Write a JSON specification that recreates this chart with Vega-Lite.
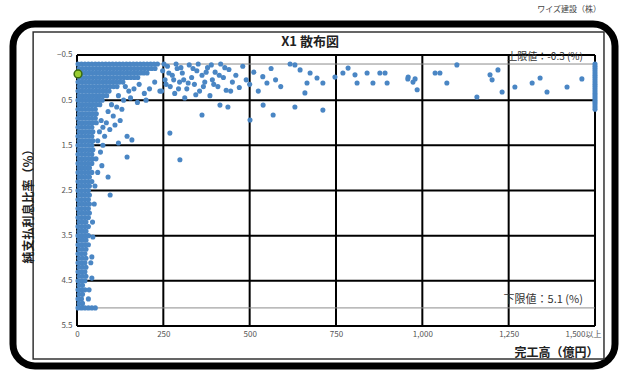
{
"$schema":"https://vega.github.io/schema/vega-lite/v6.json",
"autosize":"none",
"width":602,"height":342,
"padding":{"left":13,"top":24,"right":11,"bottom":4},
"background":"white",
"config":{"font":"Noto Sans CJK JP","view":{"stroke":"black","strokeWidth":7,"cornerRadius":22,"fill":"white"}},
"title":{"text":"ワイズ建設（株）","anchor":"end","fontSize":8,"font":"Noto Sans CJK JP","color":"#444","fontWeight":"normal","offset":2,"baseline":"bottom","dx":-14},
"datasets":{
"pts":[
{"x":3,"y":-0.3},{"x":13,"y":-0.3},{"x":23,"y":-0.3},{"x":33,"y":-0.3},{"x":43,"y":-0.3},{"x":53,"y":-0.3},{"x":63,"y":-0.3},{"x":73,"y":-0.3},{"x":83,"y":-0.3},{"x":93,"y":-0.3},{"x":103,"y":-0.3},{"x":113,"y":-0.3},{"x":123,"y":-0.3},{"x":133,"y":-0.3},{"x":143,"y":-0.3},{"x":153,"y":-0.3},{"x":163,"y":-0.3},{"x":173,"y":-0.3},{"x":183,"y":-0.3},{"x":193,"y":-0.3},{"x":203,"y":-0.3},{"x":213,"y":-0.3},{"x":223,"y":-0.3},{"x":233,"y":-0.3},
{"x":6,"y":-0.2},{"x":16,"y":-0.2},{"x":26,"y":-0.2},{"x":36,"y":-0.2},{"x":46,"y":-0.2},{"x":56,"y":-0.2},{"x":66,"y":-0.2},{"x":76,"y":-0.2},{"x":86,"y":-0.2},{"x":96,"y":-0.2},{"x":106,"y":-0.2},{"x":116,"y":-0.2},{"x":126,"y":-0.2},{"x":136,"y":-0.2},{"x":146,"y":-0.2},{"x":156,"y":-0.2},{"x":166,"y":-0.2},{"x":176,"y":-0.2},{"x":186,"y":-0.2},{"x":196,"y":-0.2},{"x":206,"y":-0.2},{"x":216,"y":-0.2},{"x":226,"y":-0.2},
{"x":3,"y":-0.1},{"x":13,"y":-0.1},{"x":23,"y":-0.1},{"x":33,"y":-0.1},{"x":43,"y":-0.1},{"x":53,"y":-0.1},{"x":63,"y":-0.1},{"x":73,"y":-0.1},{"x":83,"y":-0.1},{"x":93,"y":-0.1},{"x":103,"y":-0.1},{"x":113,"y":-0.1},{"x":123,"y":-0.1},{"x":133,"y":-0.1},{"x":143,"y":-0.1},{"x":153,"y":-0.1},{"x":163,"y":-0.1},{"x":173,"y":-0.1},{"x":183,"y":-0.1},{"x":193,"y":-0.1},{"x":203,"y":-0.1},
{"x":6,"y":0},{"x":16,"y":0},{"x":26,"y":0},{"x":36,"y":0},{"x":46,"y":0},{"x":56,"y":0},{"x":66,"y":0},{"x":76,"y":0},{"x":86,"y":0},{"x":96,"y":0},{"x":106,"y":0},{"x":116,"y":0},{"x":126,"y":0},{"x":136,"y":0},{"x":146,"y":0},{"x":156,"y":0},{"x":166,"y":0},{"x":176,"y":0},
{"x":3,"y":0.1},{"x":13,"y":0.1},{"x":23,"y":0.1},{"x":33,"y":0.1},{"x":43,"y":0.1},{"x":53,"y":0.1},{"x":63,"y":0.1},{"x":73,"y":0.1},{"x":83,"y":0.1},{"x":93,"y":0.1},{"x":103,"y":0.1},{"x":113,"y":0.1},{"x":123,"y":0.1},{"x":133,"y":0.1},
{"x":6,"y":0.2},{"x":16,"y":0.2},{"x":26,"y":0.2},{"x":36,"y":0.2},{"x":46,"y":0.2},{"x":56,"y":0.2},{"x":66,"y":0.2},{"x":76,"y":0.2},{"x":86,"y":0.2},{"x":96,"y":0.2},{"x":106,"y":0.2},{"x":116,"y":0.2},
{"x":3,"y":0.3},{"x":13,"y":0.3},{"x":23,"y":0.3},{"x":33,"y":0.3},{"x":43,"y":0.3},{"x":53,"y":0.3},{"x":63,"y":0.3},{"x":73,"y":0.3},{"x":83,"y":0.3},{"x":93,"y":0.3},
{"x":6,"y":0.4},{"x":16,"y":0.4},{"x":26,"y":0.4},{"x":36,"y":0.4},{"x":46,"y":0.4},{"x":56,"y":0.4},{"x":66,"y":0.4},{"x":76,"y":0.4},{"x":86,"y":0.4},
{"x":3,"y":0.5},{"x":13,"y":0.5},{"x":23,"y":0.5},{"x":33,"y":0.5},{"x":43,"y":0.5},{"x":53,"y":0.5},{"x":63,"y":0.5},{"x":73,"y":0.5},
{"x":6,"y":0.6},{"x":16,"y":0.6},{"x":26,"y":0.6},{"x":36,"y":0.6},{"x":46,"y":0.6},{"x":56,"y":0.6},{"x":66,"y":0.6},
{"x":3,"y":0.7},{"x":13,"y":0.7},{"x":23,"y":0.7},{"x":33,"y":0.7},{"x":43,"y":0.7},{"x":53,"y":0.7},
{"x":6,"y":0.8},{"x":16,"y":0.8},{"x":26,"y":0.8},{"x":36,"y":0.8},{"x":46,"y":0.8},{"x":56,"y":0.8},
{"x":3,"y":0.9},{"x":13,"y":0.9},{"x":23,"y":0.9},{"x":33,"y":0.9},{"x":43,"y":0.9},{"x":53,"y":0.9},
{"x":6,"y":1.0},{"x":16,"y":1.0},{"x":26,"y":1.0},{"x":36,"y":1.0},{"x":46,"y":1.0},{"x":56,"y":1.0},
{"x":3,"y":1.1},{"x":13,"y":1.1},{"x":23,"y":1.1},{"x":33,"y":1.1},{"x":43,"y":1.1},
{"x":6,"y":1.2},{"x":16,"y":1.2},{"x":26,"y":1.2},{"x":36,"y":1.2},{"x":46,"y":1.2},
{"x":3,"y":1.3},{"x":13,"y":1.3},{"x":23,"y":1.3},{"x":33,"y":1.3},{"x":43,"y":1.3},
{"x":6,"y":1.4},{"x":16,"y":1.4},{"x":26,"y":1.4},{"x":36,"y":1.4},{"x":46,"y":1.4},
{"x":3,"y":1.5},{"x":13,"y":1.5},{"x":23,"y":1.5},{"x":33,"y":1.5},{"x":43,"y":1.5},
{"x":6,"y":1.6},{"x":16,"y":1.6},{"x":26,"y":1.6},{"x":36,"y":1.6},{"x":46,"y":1.6},
{"x":3,"y":1.7},{"x":13,"y":1.7},{"x":23,"y":1.7},{"x":33,"y":1.7},{"x":43,"y":1.7},
{"x":6,"y":1.8},{"x":16,"y":1.8},{"x":26,"y":1.8},{"x":36,"y":1.8},{"x":46,"y":1.8},
{"x":3,"y":1.9},{"x":13,"y":1.9},{"x":23,"y":1.9},{"x":33,"y":1.9},{"x":43,"y":1.9},
{"x":6,"y":2.0},{"x":16,"y":2.0},{"x":26,"y":2.0},{"x":36,"y":2.0},
{"x":3,"y":2.1},{"x":13,"y":2.1},{"x":23,"y":2.1},{"x":33,"y":2.1},{"x":43,"y":2.1},
{"x":6,"y":2.2},{"x":16,"y":2.2},{"x":26,"y":2.2},{"x":36,"y":2.2},
{"x":3,"y":2.3},{"x":13,"y":2.3},{"x":23,"y":2.3},{"x":33,"y":2.3},{"x":43,"y":2.3},
{"x":6,"y":2.4},{"x":16,"y":2.4},{"x":26,"y":2.4},{"x":36,"y":2.4},
{"x":3,"y":2.5},{"x":13,"y":2.5},{"x":23,"y":2.5},{"x":33,"y":2.5},
{"x":6,"y":2.6},{"x":16,"y":2.6},{"x":26,"y":2.6},{"x":36,"y":2.6},
{"x":3,"y":2.7},{"x":13,"y":2.7},{"x":23,"y":2.7},{"x":33,"y":2.7},
{"x":6,"y":2.8},{"x":16,"y":2.8},{"x":26,"y":2.8},{"x":36,"y":2.8},
{"x":3,"y":2.9},{"x":13,"y":2.9},{"x":23,"y":2.9},{"x":33,"y":2.9},
{"x":6,"y":3.0},{"x":16,"y":3.0},{"x":26,"y":3.0},{"x":36,"y":3.0},
{"x":3,"y":3.1},{"x":13,"y":3.1},{"x":23,"y":3.1},{"x":33,"y":3.1},
{"x":6,"y":3.2},{"x":16,"y":3.2},{"x":26,"y":3.2},
{"x":3,"y":3.3},{"x":13,"y":3.3},{"x":23,"y":3.3},{"x":33,"y":3.3},
{"x":6,"y":3.4},{"x":16,"y":3.4},{"x":26,"y":3.4},
{"x":3,"y":3.5},{"x":13,"y":3.5},{"x":23,"y":3.5},{"x":33,"y":3.5},
{"x":6,"y":3.6},{"x":16,"y":3.6},{"x":26,"y":3.6},
{"x":3,"y":3.7},{"x":13,"y":3.7},{"x":23,"y":3.7},{"x":33,"y":3.7},
{"x":6,"y":3.8},{"x":16,"y":3.8},{"x":26,"y":3.8},
{"x":3,"y":3.9},{"x":13,"y":3.9},{"x":23,"y":3.9},
{"x":6,"y":4.0},{"x":16,"y":4.0},{"x":26,"y":4.0},
{"x":3,"y":4.1},{"x":13,"y":4.1},{"x":23,"y":4.1},
{"x":6,"y":4.2},{"x":16,"y":4.2},{"x":26,"y":4.2},
{"x":3,"y":4.3},{"x":13,"y":4.3},{"x":23,"y":4.3},
{"x":6,"y":4.4},{"x":16,"y":4.4},{"x":26,"y":4.4},
{"x":3,"y":4.5},{"x":13,"y":4.5},{"x":23,"y":4.5},
{"x":6,"y":4.6},{"x":16,"y":4.6},
{"x":3,"y":4.7},{"x":13,"y":4.7},{"x":23,"y":4.7},
{"x":6,"y":4.8},{"x":16,"y":4.8},
{"x":3,"y":4.9},{"x":13,"y":4.9},
{"x":6,"y":5.0},{"x":16,"y":5.0},
{"x":3,"y":5.1},{"x":13,"y":5.1},{"x":23,"y":5.1},{"x":33,"y":5.1},{"x":43,"y":5.1},{"x":53,"y":5.1},
{"x":248,"y":-0.15},{"x":255,"y":0.05},{"x":262,"y":-0.25},{"x":270,"y":0.2},{"x":276,"y":-0.05},{"x":283,"y":0.35},{"x":290,"y":-0.2},{"x":297,"y":0.1},{"x":305,"y":-0.1},{"x":312,"y":0.45},{"x":318,"y":0.25},{"x":325,"y":-0.28},{"x":332,"y":0},{"x":340,"y":0.15},{"x":347,"y":-0.15},{"x":355,"y":0.3},{"x":362,"y":-0.05},{"x":370,"y":0.1},{"x":378,"y":-0.22},{"x":385,"y":0.4},{"x":392,"y":0.05},{"x":400,"y":-0.12},{"x":408,"y":0.2},{"x":416,"y":-0.3},{"x":424,"y":0},{"x":432,"y":0.28},{"x":440,"y":-0.18},{"x":450,"y":0.1},{"x":460,"y":-0.05},{"x":470,"y":0.22},{"x":480,"y":-0.25},{"x":490,"y":0.05},{"x":500,"y":0.15},{"x":512,"y":-0.12},{"x":525,"y":0.3},{"x":538,"y":-0.02},{"x":550,"y":0.12},{"x":562,"y":-0.2},{"x":575,"y":0.05},{"x":590,"y":0.2},
{"x":245,"y":0.3},{"x":252,"y":-0.3},{"x":258,"y":0.15},{"x":266,"y":-0.1},{"x":280,"y":0.05},{"x":287,"y":-0.3},{"x":294,"y":0.25},{"x":301,"y":-0.22},{"x":309,"y":0.05},{"x":322,"y":0.12},{"x":336,"y":-0.2},{"x":344,"y":0.38},{"x":351,"y":-0.3},{"x":366,"y":0.2},{"x":374,"y":-0.12},{"x":389,"y":-0.28},{"x":396,"y":0.15},{"x":412,"y":-0.05},{"x":428,"y":-0.22},{"x":445,"y":0.3},
{"x":140,"y":0.2},{"x":150,"y":0.3},{"x":165,"y":0.25},{"x":180,"y":0.15},{"x":195,"y":0.35},{"x":210,"y":0.25},{"x":225,"y":0.1},{"x":240,"y":0.3},{"x":120,"y":0.4},{"x":135,"y":0.5},{"x":155,"y":0.45},{"x":175,"y":0.55},{"x":200,"y":0.5},{"x":100,"y":0.6},{"x":115,"y":0.65},{"x":130,"y":0.7},{"x":90,"y":0.75},{"x":105,"y":0.85},{"x":70,"y":0.95},{"x":85,"y":1.0},{"x":75,"y":1.1},{"x":95,"y":1.15},{"x":65,"y":1.2},{"x":80,"y":1.3},{"x":60,"y":1.4},{"x":75,"y":1.5},{"x":145,"y":1.3},{"x":159,"y":1.38},{"x":269,"y":1.23},{"x":298,"y":1.82},{"x":145,"y":1.76},{"x":90,"y":2.2},{"x":96,"y":2.6},{"x":55,"y":1.8},{"x":60,"y":2.1},{"x":52,"y":2.4},{"x":50,"y":2.8},{"x":46,"y":3.53},{"x":43,"y":3.97},{"x":43,"y":4.44},{"x":45,"y":3.2},{"x":40,"y":4.1},{"x":35,"y":4.7},{"x":33,"y":4.9},{"x":110,"y":1.05},{"x":125,"y":0.95},{"x":120,"y":1.45},{"x":68,"y":1.65},{"x":72,"y":1.95},
{"x":617,"y":-0.3},{"x":631,"y":-0.28},{"x":646,"y":-0.17},{"x":675,"y":-0.1},{"x":695,"y":0.01},{"x":666,"y":0.12},{"x":660,"y":0.34},{"x":712,"y":0.12},{"x":747,"y":-0.01},{"x":770,"y":-0.1},{"x":785,"y":-0.21},{"x":805,"y":-0.06},{"x":811,"y":0.12},{"x":840,"y":-0.1},{"x":857,"y":0.12},{"x":877,"y":-0.1},{"x":892,"y":-0.1},{"x":898,"y":0.12},{"x":959,"y":-0.01},{"x":973,"y":0.1},{"x":958,"y":0.03},{"x":979,"y":0.03},{"x":985,"y":0.27},{"x":1037,"y":-0.1},{"x":1051,"y":-0.1},{"x":1071,"y":0.12},{"x":1100,"y":-0.28},{"x":1158,"y":0.43},{"x":1196,"y":-0.06},{"x":1202,"y":0.05},{"x":1219,"y":-0.17},{"x":1231,"y":0.32},{"x":1268,"y":0.21},{"x":1318,"y":0.12},{"x":1341,"y":0.01},{"x":1361,"y":0.32},{"x":1419,"y":0.21},{"x":1462,"y":0.03},
{"x":414,"y":0.61},{"x":437,"y":0.65},{"x":362,"y":0.83},{"x":539,"y":0.61},{"x":568,"y":0.83},{"x":631,"y":0.65},{"x":712,"y":0.72},{"x":501,"y":0.94},
{"x":1500,"y":-0.3},{"x":1500,"y":-0.25},{"x":1500,"y":-0.2},{"x":1500,"y":-0.15},{"x":1500,"y":-0.1},{"x":1500,"y":-0.05},{"x":1500,"y":0},{"x":1500,"y":0.05},{"x":1500,"y":0.1},{"x":1500,"y":0.15},{"x":1500,"y":0.2},{"x":1500,"y":0.25},{"x":1500,"y":0.3},{"x":1500,"y":0.35},{"x":1500,"y":0.4},{"x":1500,"y":0.45},{"x":1500,"y":0.5},{"x":1500,"y":0.55},{"x":1500,"y":0.6},{"x":1500,"y":0.65},{"x":1500,"y":0.7}
],
"vgrid":[{"v":0},{"v":250},{"v":500},{"v":750},{"v":1000},{"v":1250},{"v":1500}],
"hgrid":[{"v":-0.5},{"v":0.5},{"v":1.5},{"v":2.5},{"v":3.5},{"v":4.5},{"v":5.5}],
"limits":[{"v":-0.3},{"v":5.1}],
"self":[{"x":3,"y":-0.08}],
"one":[{}]
},
"layer":[
{"data":{"name":"pts"},"mark":{"type":"circle","size":26,"color":"#4a86c4","opacity":0},
 "encoding":{
  "x":{"field":"x","type":"quantitative","scale":{"domain":[-185.3,1557.9],"nice":false,"zero":false},"axis":{"values":[0,250,500,750,1000,1250,1500],"labelExpr":"datum.value == 1500 ? '1,500以上' : format(datum.value, ',')","offset":-40,"domain":false,"ticks":false,"grid":false,"labelFontSize":8,"labelColor":"#555","labelFont":"Noto Sans CJK JP","labelPadding":4,"labelOverlap":false,"labelFlush":false,"labelBound":false,"labelOffset":{"condition":{"test":"datum.value == 1500","value":-12},"value":0},"title":"完工高（億円）","titleFont":"Noto Sans CJK JP","titleFontSize":12,"titleFontWeight":"bold","titleColor":"#222","titleX":585,"titleY":26,"titleAlign":"right","titleBaseline":"middle","zindex":5}},
  "y":{"field":"y","type":"quantitative","scale":{"domain":[-1.186,6.386],"nice":false,"zero":false,"reverse":true},"axis":{"values":[-0.5,0.5,1.5,2.5,3.5,4.5,5.5],"format":".1f","offset":-64,"domain":false,"ticks":false,"grid":false,"labelFontSize":8,"labelColor":"#555","labelFont":"Noto Sans CJK JP","labelPadding":5,"labelOverlap":false,"labelBound":false,"title":"純支払利息比率（％）","titleFont":"Noto Sans CJK JP","titleFontSize":12,"titleFontWeight":"bold","titleColor":"#222","titleX":-49,"titleY":179,"titleAngle":-90,"titleAlign":"center","titleBaseline":"middle","zindex":5}}
 }},
{"data":{"name":"one"},"mark":{"type":"rect","fillOpacity":0,"stroke":"#333","strokeWidth":1.5},
 "encoding":{"x":{"datum":-127,"type":"quantitative"},"x2":{"datum":1526},"y":{"datum":-1.01,"type":"quantitative"},"y2":{"datum":6.23}}},
{"data":{"name":"vgrid"},"mark":{"type":"rule","color":"black","strokeWidth":2},
 "encoding":{"x":{"field":"v","type":"quantitative"},"y":{"datum":-0.5,"type":"quantitative"},"y2":{"datum":5.5}}},
{"data":{"name":"hgrid"},"mark":{"type":"rule","color":"black","strokeWidth":2},
 "encoding":{"y":{"field":"v","type":"quantitative"},"x":{"datum":0,"type":"quantitative"},"x2":{"datum":1500}}},
{"data":{"name":"limits"},"mark":{"type":"rule","color":"#8c8c8c","strokeWidth":1},
 "encoding":{"y":{"field":"v","type":"quantitative"},"x":{"datum":0,"type":"quantitative"},"x2":{"datum":1500}}},
{"data":{"name":"pts"},"mark":{"type":"circle","size":26,"color":"#4a86c4","opacity":1},
 "encoding":{"x":{"field":"x","type":"quantitative"},"y":{"field":"y","type":"quantitative"}}},
{"data":{"name":"self"},"mark":{"type":"point","filled":true,"size":60,"fill":"#9acd32","stroke":"#3a6a10","strokeWidth":1.5,"opacity":1,"strokeOpacity":1},
 "encoding":{"x":{"field":"x","type":"quantitative"},"y":{"field":"y","type":"quantitative"}}},
{"data":{"name":"one"},"mark":{"type":"text","text":"X1  散布図","fontSize":13,"fontWeight":"bold","font":"Noto Sans CJK JP","color":"#222","align":"center","baseline":"middle"},
 "encoding":{"x":{"datum":675,"type":"quantitative"},"y":{"datum":-0.79,"type":"quantitative"}}},
{"data":{"name":"one"},"mark":{"type":"text","text":"上限値：-0.3 (%)","fontSize":10,"font":"Noto Sans CJK JP","color":"#333","align":"right","baseline":"middle"},
 "encoding":{"x":{"datum":1465,"type":"quantitative"},"y":{"datum":-0.45,"type":"quantitative"}}},
{"data":{"name":"one"},"mark":{"type":"text","text":"下限値：5.1 (%)","fontSize":11,"font":"Noto Sans CJK JP","color":"#333","align":"right","baseline":"middle"},
 "encoding":{"x":{"datum":1465,"type":"quantitative"},"y":{"datum":4.92,"type":"quantitative"}}}
]
}
